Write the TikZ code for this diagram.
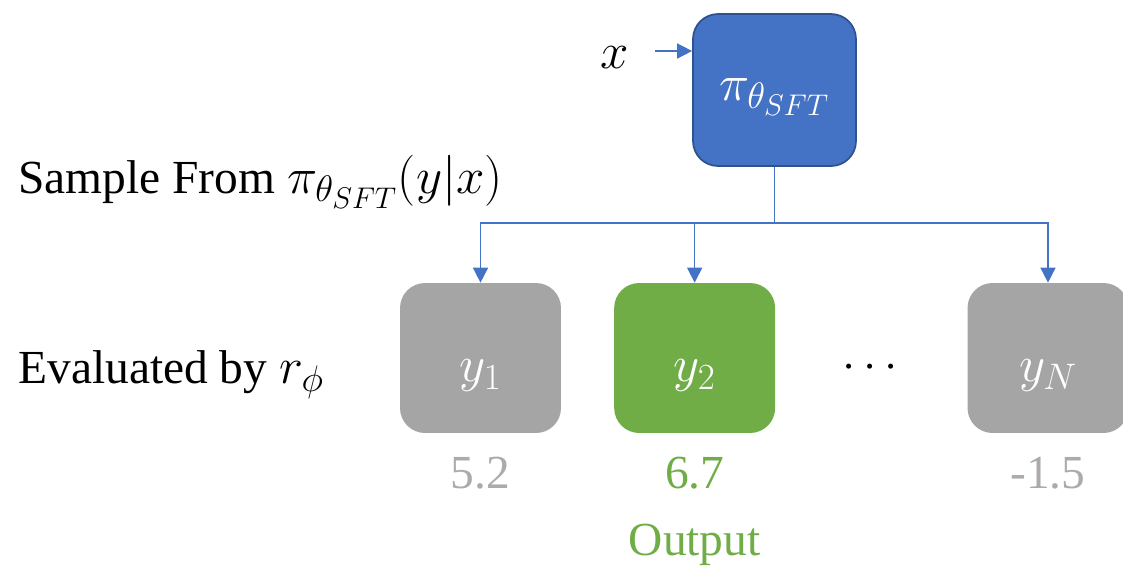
\documentclass[tikz,border=0pt]{standalone}
\usepackage{fix-cm}
\usepackage{fontspec}
\setmainfont{Liberation Serif}
\DeclareMathSizes{29}{29}{21}{17}
\newcommand{\bigmath}[1]{{\fontsize{29}{34}\selectfont$#1$}}
\usetikzlibrary{arrows.meta,positioning,calc}
\definecolor{policyblue}{HTML}{4472C4}
\definecolor{policyedge}{HTML}{2F528F}
\definecolor{samplegray}{HTML}{A5A5A5}
\definecolor{scoregray}{HTML}{AEAAAA}
\definecolor{bestgreen}{HTML}{70AD47}
\tikzset{
  policy/.style={rectangle,rounded corners=5mm,draw=policyedge,line width=1pt,fill=policyblue,minimum width=32.6mm,minimum height=30.4mm,text=white,inner sep=0pt,text height=6mm,text depth=2mm},
  sample/.style={rectangle,rounded corners=5mm,fill=samplegray,minimum width=32.2mm,minimum height=30mm,text=white,inner sep=0pt,text height=11.5mm,text depth=2mm},
  best/.style={sample,fill=bestgreen},
  score/.style={text=scoregray,anchor=base,inner sep=0pt},
  caption/.style={anchor=base west,inner sep=0pt},
  link/.style={draw=policyblue,line width=0.9pt,-{Triangle[length=3mm,width=3mm]}}
}

\begin{document}
\begin{tikzpicture}[
    x=0.02cm, y=-0.02cm,
    font=\fontsize{27}{32}\selectfont
]
\useasboundingbox (0,0) rectangle (1123,566);

% =========================================================
% Policy
% =========================================================

\node[policy] (pi) at (774.5,90) {\bigmath{\pi_{\theta_{SFT}}}};
\node[anchor=base,inner sep=0pt] (x) at (615,68) {\bigmath{x}};
\coordinate (xin) at (655,51);
\draw[link] (xin) -- (xin -| pi.west);

\node[caption] (samp) at (18,193) {Sample From \bigmath{\pi_{\theta_{SFT}}(y|x)}};

% =========================================================
% Samples
% =========================================================

\node[sample] (y1) at (480.5,358) {\bigmath{y_1}};
\node[best,right=10.5mm of y1] (y2) {\bigmath{y_2}};
\node[sample] (yN) at (1048,358) {\bigmath{y_N}};
\node (dots) at (870,368) {$\cdots$};

\node[caption] (eval) at (18,383) {Evaluated by \bigmath{r_\phi}};

\coordinate (split) at (774.5,223);
\draw[link,-] (pi.south) -- (split);
\draw[link] (split) -| (y1.north);
\draw[link] (split) -| (y2.north);
\draw[link] (split) -| (yN.north);

% scores
\node[score] (s1) at ($(y1.south)+(0,55)$) {5.2};
\node[score,text=bestgreen] (s2) at ($(y2.south)+(0,55)$) {6.7};
\node[score] (sN) at ($(yN.south)+(0,55)$) {-1.5};

\node[score,text=bestgreen] (out) at ($(s2.base)+(0,67)$) {Output};

\end{tikzpicture}
\end{document}
